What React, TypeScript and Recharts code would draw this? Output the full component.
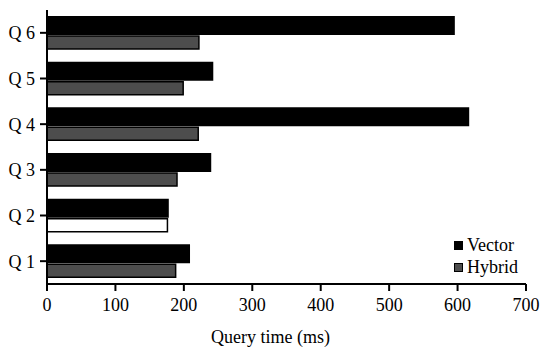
import React from 'react';
import { BarChart, Bar, XAxis, YAxis, Cell } from 'recharts';

const queries = ['Q 1', 'Q 2', 'Q 3', 'Q 4', 'Q 5', 'Q 6'];
const vectorTimes = [209, 178, 240, 617, 243, 596];
const hybridTimes = [188, 176, 190, 221, 199, 222];
const xTicks = [0, 100, 200, 300, 400, 500, 600, 700];

const data = queries.map((q, i) => ({ q, vector: vectorTimes[i], hybrid: hybridTimes[i] }));

const FONT = '"Liberation Serif", "Times New Roman", serif';

function LegendBox() {
  const row = (label: string, fill: string) => (
    <div style={{ display: 'flex', alignItems: 'center', height: 22 }}>
      <span
        style={{
          width: 7,
          height: 7,
          background: fill,
          border: '1.5px solid #000',
          marginRight: 4,
          display: 'inline-block',
        }}
      />
      <span style={{ fontSize: 18, color: '#000', lineHeight: '22px' }}>{label}</span>
    </div>
  );
  return (
    <div style={{ fontFamily: FONT, position: 'absolute', left: 454, top: 234 }}>
      {row('Vector', '#000')}
      {row('Hybrid', '#4d4d4d')}
    </div>
  );
}

export default function App() {
  return (
    <div style={{ position: 'absolute', left: 0, top: 0, width: 543, height: 355, background: '#fff' }}>
      <BarChart
        width={543}
        height={355}
        data={data}
        layout="vertical"
        margin={{ top: 10, right: 17, left: 0, bottom: 0 }}
        barGap={1}
        style={{ fontFamily: FONT }}
      >
        <XAxis
          type="number"
          domain={[0, 700]}
          ticks={xTicks}
          interval={0}
          height={71}
          tickSize={7}
          tickMargin={7}
          axisLine={{ stroke: '#000', strokeWidth: 2 }}
          tickLine={{ stroke: '#000', strokeWidth: 2 }}
          tick={{ fill: '#000', fontSize: 18, fontFamily: FONT }}
          label={({ viewBox }: any) => (
            <text
              x={viewBox.x + viewBox.width / 2 - 16}
              y={343}
              textAnchor="middle"
              fontSize={18}
              fontFamily={FONT}
              fill="#000"
            >
              Query time (ms)
            </text>
          )}
        />
        <YAxis
          type="category"
          dataKey="q"
          reversed
          width={47}
          tickSize={7}
          tickMargin={5}
          axisLine={{ stroke: '#000', strokeWidth: 2 }}
          tickLine={{ stroke: '#000', strokeWidth: 2 }}
          tick={{ fill: '#000', fontSize: 18, fontFamily: FONT }}
        />
        <Bar dataKey="vector" name="Vector" fill="#000" barSize={19} isAnimationActive={false} />
        <Bar
          dataKey="hybrid"
          name="Hybrid"
          fill="#4d4d4d"
          stroke="#000"
          strokeWidth={1.5}
          barSize={13}
          isAnimationActive={false}
        >
          {data.map((d) => (
            <Cell key={d.q} fill={d.q === 'Q 2' ? '#fff' : '#4d4d4d'} />
          ))}
        </Bar>
      </BarChart>
      <LegendBox />
    </div>
  );
}
